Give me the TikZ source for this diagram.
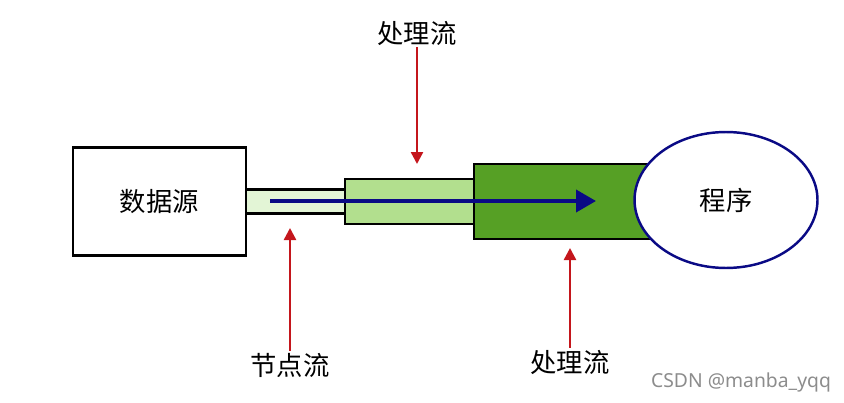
\documentclass[tikz,border=0pt]{standalone}
\usepackage{fontspec}
\newfontfamily\cjk{Noto Sans CJK SC}
\setsansfont{Noto Sans}
\usepackage{tikz}
\usetikzlibrary{arrows.meta, positioning, shapes.geometric, calc}
\definecolor{cverdeclaro}{HTML}{E3F5D6}
\definecolor{cverdemedio}{HTML}{B2DF8E}
\definecolor{cverdeoscuro}{HTML}{56A025}
\definecolor{cazul}{HTML}{0A0A85}
\definecolor{crojo}{HTML}{C4161C}
\tikzset{
  caja/.style={rectangle, draw=black, fill=#1, line width=1.4pt, inner sep=0pt, outer sep=0pt},
  etiqueta/.style={font=\cjk\fontsize{15}{18}\selectfont, inner sep=1pt},
  flujo/.style={-{Triangle[length=4mm, width=4.4mm]}, line width=2.2pt, draw=cazul},
  senal/.style={-{Triangle[length=2.4mm, width=2.4mm]}, line width=1.4pt, draw=crojo},
}
\begin{document}
\begin{tikzpicture}[x=0.02cm, y=-0.02cm]
    \useasboundingbox (0,0) rectangle (844,402);
    \node[caja=white, minimum width=3.46cm, minimum height=2.16cm, etiqueta] (fuente) at (159.5,201.5) {数据源};
    \node[caja=cverdeclaro, minimum width=1.98cm, minimum height=0.48cm, right=0pt of fuente] (nodo) {};
    \node[caja=cverdemedio, minimum width=2.58cm, minimum height=0.9cm, right=0pt of nodo] (ligero) {};
    \node[caja=cverdeoscuro, minimum width=4.32cm, minimum height=1.5cm, right=0pt of ligero] (pesado) {};
    \node[ellipse, draw=cazul, fill=white, line width=1.4pt, minimum width=3.66cm, minimum height=2.72cm,
          inner sep=0pt, etiqueta] (programa) at (726,200) {程序};
    % flujo de datos
    \coordinate (ini) at (270,201);
    \coordinate (fin) at (596,201);
    \draw[flujo] (ini) -- (fin);
    % etiquetas y flechas rojas
    \node[etiqueta] (etqarriba) at (417,33) {处理流};
    \node[etiqueta] (etqnodo) at (290,365) {节点流};
    \node[etiqueta] (etqabajo) at (570,362) {处理流};
    \coordinate (p1) at (417,164);
    \coordinate (p2) at (290,228);
    \coordinate (p3) at (570,248);
    \draw[senal] (etqarriba) -- (p1);
    \draw[senal] (etqnodo) -- (p2);
    \draw[senal] (etqabajo) -- (p3);
    \node[font=\sffamily\fontsize{11}{13}\selectfont, text=black!45] (marca) at (741,382) {CSDN @manba\_yqq};
\end{tikzpicture}
\end{document}
